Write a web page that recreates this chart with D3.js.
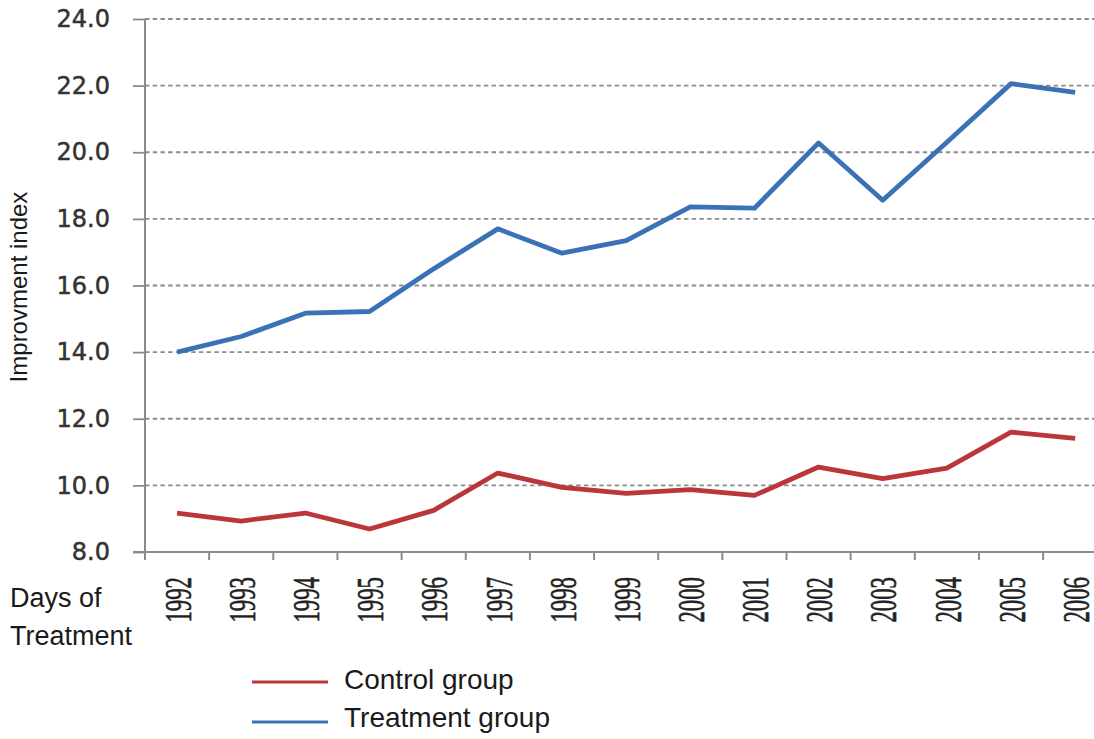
<!DOCTYPE html>
<html>
<head>
<meta charset="utf-8">
<script src="https://cdn.jsdelivr.net/npm/d3@7"></script>
<style>
  body { margin: 0; background: #fff; }
  svg { display: block; }
</style>
</head>
<body>
<script>
// values
const years = ["1992","1993","1994","1995","1996","1997","1998","1999","2000","2001","2002","2003","2004","2005","2006"];
const treatment = [14.0, 14.47, 15.17, 15.22, 16.5, 17.7, 16.97, 17.35, 18.36, 18.32, 20.28, 18.56, 20.3, 22.06, 21.8];
const control = [9.17, 8.93, 9.17, 8.69, 9.25, 10.37, 9.94, 9.76, 9.87, 9.7, 10.55, 10.2, 10.52, 11.6, 11.41];
const yTicks = [8, 10, 12, 14, 16, 18, 20, 22, 24];
const seriesNames = ["Control group", "Treatment group"];
const seriesColors = ["#bb363b", "#3b72b6"];

const w = 1094, h = 739;
const plotLeft = 145, plotTop = 19, plotBottom = 552;

const svg = d3.select("body").append("svg")
  .attr("width", w)
  .attr("height", h);

const x = d3.scaleBand()
  .domain(years)
  .range([plotLeft, plotLeft + 15 * 64.15]);
const xc = d => x(d) + x.bandwidth() / 2;

const y = d3.scaleLinear()
  .domain([8, 24])
  .range([plotBottom, plotTop]);

// gridlines
svg.append("g")
  .selectAll("line")
  .data(yTicks.filter(d => d > 8))
  .enter()
  .append("line")
  .attr("x1", plotLeft)
  .attr("x2", w)
  .attr("y1", d => y(d))
  .attr("y2", d => y(d))
  .attr("stroke", "#8c8c8c")
  .attr("stroke-width", 1.8)
  .attr("stroke-dasharray", "4.5,3.2");

// y axis
const yAxis = d3.axisLeft(y)
  .tickValues(yTicks)
  .tickSize(12)
  .tickPadding(23)
  .tickFormat(d3.format(".1f"));
const gy = svg.append("g")
  .attr("transform", "translate(" + plotLeft + ",0)")
  .call(yAxis);
gy.select(".domain").remove();
gy.append("line")
  .attr("x1", 0).attr("x2", 0)
  .attr("y1", plotTop).attr("y2", plotBottom + 8)
  .attr("stroke", "#8a8a8a").attr("stroke-width", 2);
gy.selectAll(".tick line").attr("stroke", "#8a8a8a").attr("stroke-width", 1.8);
gy.selectAll(".tick text")
  .attr("fill", "#333")
  .attr("stroke", "#333")
  .attr("stroke-width", 0.5)
  .style("font-family", "'DejaVu Sans', Verdana, sans-serif")
  .style("font-size", "24px");

// x axis line and tick marks at band edges
svg.append("line")
  .attr("x1", 133).attr("x2", w)
  .attr("y1", plotBottom).attr("y2", plotBottom)
  .attr("stroke", "#8a8a8a").attr("stroke-width", 2);
svg.append("g")
  .selectAll("line")
  .data(years.slice(1))
  .enter()
  .append("line")
  .attr("x1", d => x(d)).attr("x2", d => x(d))
  .attr("y1", plotBottom).attr("y2", plotBottom + 8)
  .attr("stroke", "#8a8a8a").attr("stroke-width", 2);

// rotated year labels
svg.append("g")
  .selectAll("g")
  .data(years)
  .enter()
  .append("g")
  .attr("transform", d => "translate(" + (xc(d) + 1) + ",577) rotate(-90)")
  .append("text")
  .attr("transform", "scale(0.6,1)")
  .attr("text-anchor", "end")
  .attr("dominant-baseline", "central")
  .attr("fill", "#222")
  .attr("stroke", "#222")
  .attr("stroke-width", 0.6)
  .style("font-family", "'Liberation Serif', 'DejaVu Serif', serif")
  .style("font-size", "38px")
  .text(d => d);

// lines
const line = d3.line()
  .x((d, i) => xc(years[i]))
  .y(d => y(d));

[control, treatment].forEach((s, i) => {
  svg.append("path")
    .datum(s)
    .attr("fill", "none")
    .attr("stroke", seriesColors[i])
    .attr("stroke-width", 4.8)
    .attr("stroke-linejoin", "round")
    .attr("d", line);
});

// axis titles
svg.append("text")
  .attr("transform", "translate(27,287) rotate(-90)")
  .attr("text-anchor", "middle")
  .attr("fill", "#1a1a1a")
  .style("font-family", "'Liberation Sans', Arial, sans-serif")
  .style("font-size", "24px")
  .text("Improvment index");

svg.append("text")
  .attr("x", 10).attr("y", 607)
  .attr("fill", "#1a1a1a")
  .style("font-family", "'Liberation Sans', Arial, sans-serif")
  .style("font-size", "27px")
  .text("Days of");
svg.append("text")
  .attr("x", 10).attr("y", 645)
  .attr("fill", "#1a1a1a")
  .style("font-family", "'Liberation Sans', Arial, sans-serif")
  .style("font-size", "27px")
  .text("Treatment");

// legend
const legend = svg.selectAll(".legend")
  .data(seriesNames)
  .enter()
  .append("g")
  .attr("class", "legend")
  .attr("transform", (d, i) => "translate(252," + (682 + 40 * i) + ")");
legend.append("line")
  .attr("x1", 0).attr("x2", 76)
  .attr("y1", 0).attr("y2", 0)
  .attr("stroke", (d, i) => seriesColors[i])
  .attr("stroke-width", 3);
legend.append("text")
  .attr("x", 92)
  .attr("y", (d, i) => 7 - i * 2)
  .attr("fill", "#1a1a1a")
  .style("font-family", "'Liberation Sans', Arial, sans-serif")
  .style("font-size", "28px")
  .text(d => d);
</script>
</body>
</html>
